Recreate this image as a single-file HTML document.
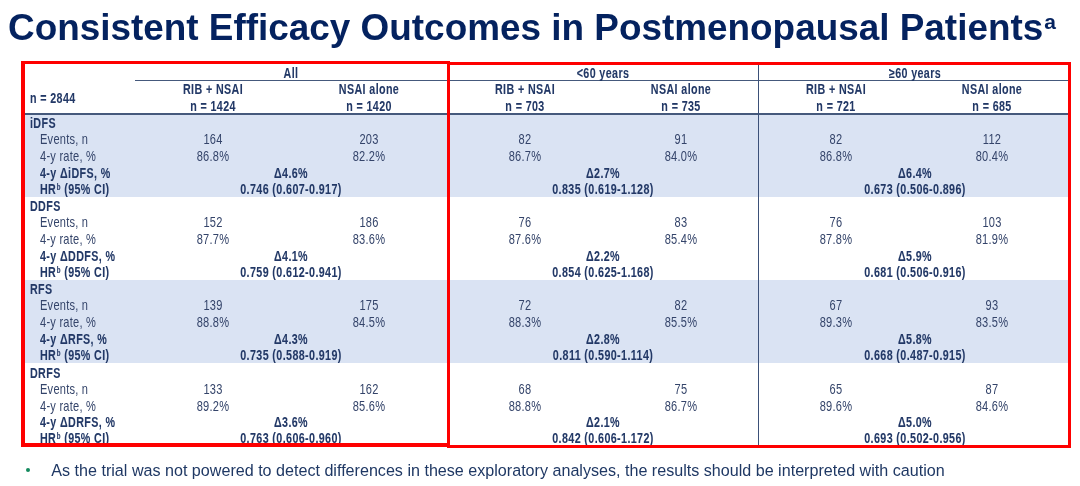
<!DOCTYPE html>
<html><head><meta charset="utf-8"><style>
html,body{margin:0;padding:0;}
body{width:1080px;height:486px;position:relative;overflow:hidden;background:#fff;font-family:"Liberation Sans", sans-serif;}
</style></head><body><div id="w" style="position:absolute;left:0;top:0;width:1080px;height:486px;will-change:transform">
<div style="position:absolute;left:25px;top:115px;width:1043px;height:82.4px;background:#dae3f3"></div>
<div style="position:absolute;left:25px;top:280.3px;width:1043px;height:83.1px;background:#dae3f3"></div>
<div style="position:absolute;left:135px;top:79.9px;width:933px;height:1.5px;background:#45597c"></div>
<div style="position:absolute;left:25px;top:113.3px;width:1043px;height:1.7px;background:#45597c"></div>
<div style="position:absolute;left:758.0px;top:65px;width:1.4px;height:381px;background:#3b5078"></div>
<div style="position:absolute;left:140.8px;width:300px;text-align:center;top:63.11px;font-size:14.1px;line-height:20px;font-weight:700;color:#223866;transform:scaleX(0.76);transform-origin:50% 0;white-space:nowrap;letter-spacing:0.5px;-webkit-text-stroke:0.08px">All</div>
<div style="position:absolute;left:62.80000000000001px;width:300px;text-align:center;top:79.31px;font-size:14.1px;line-height:20px;font-weight:700;color:#223866;transform:scaleX(0.76);transform-origin:50% 0;white-space:nowrap;letter-spacing:0.5px;-webkit-text-stroke:0.08px">RIB + NSAI</div>
<div style="position:absolute;left:218.8px;width:300px;text-align:center;top:79.31px;font-size:14.1px;line-height:20px;font-weight:700;color:#223866;transform:scaleX(0.76);transform-origin:50% 0;white-space:nowrap;letter-spacing:0.5px;-webkit-text-stroke:0.08px">NSAI alone</div>
<div style="position:absolute;left:62.80000000000001px;width:300px;text-align:center;top:95.71px;font-size:14.1px;line-height:20px;font-weight:700;color:#223866;transform:scaleX(0.76);transform-origin:50% 0;white-space:nowrap;letter-spacing:0.5px;-webkit-text-stroke:0.08px">n = 1424</div>
<div style="position:absolute;left:218.8px;width:300px;text-align:center;top:95.71px;font-size:14.1px;line-height:20px;font-weight:700;color:#223866;transform:scaleX(0.76);transform-origin:50% 0;white-space:nowrap;letter-spacing:0.5px;-webkit-text-stroke:0.08px">n = 1420</div>
<div style="position:absolute;left:453px;width:300px;text-align:center;top:63.11px;font-size:14.1px;line-height:20px;font-weight:700;color:#223866;transform:scaleX(0.76);transform-origin:50% 0;white-space:nowrap;letter-spacing:0.5px;-webkit-text-stroke:0.08px">&lt;60 years</div>
<div style="position:absolute;left:375px;width:300px;text-align:center;top:79.31px;font-size:14.1px;line-height:20px;font-weight:700;color:#223866;transform:scaleX(0.76);transform-origin:50% 0;white-space:nowrap;letter-spacing:0.5px;-webkit-text-stroke:0.08px">RIB + NSAI</div>
<div style="position:absolute;left:531px;width:300px;text-align:center;top:79.31px;font-size:14.1px;line-height:20px;font-weight:700;color:#223866;transform:scaleX(0.76);transform-origin:50% 0;white-space:nowrap;letter-spacing:0.5px;-webkit-text-stroke:0.08px">NSAI alone</div>
<div style="position:absolute;left:375px;width:300px;text-align:center;top:95.71px;font-size:14.1px;line-height:20px;font-weight:700;color:#223866;transform:scaleX(0.76);transform-origin:50% 0;white-space:nowrap;letter-spacing:0.5px;-webkit-text-stroke:0.08px">n = 703</div>
<div style="position:absolute;left:531px;width:300px;text-align:center;top:95.71px;font-size:14.1px;line-height:20px;font-weight:700;color:#223866;transform:scaleX(0.76);transform-origin:50% 0;white-space:nowrap;letter-spacing:0.5px;-webkit-text-stroke:0.08px">n = 735</div>
<div style="position:absolute;left:764.7px;width:300px;text-align:center;top:63.11px;font-size:14.1px;line-height:20px;font-weight:700;color:#223866;transform:scaleX(0.76);transform-origin:50% 0;white-space:nowrap;letter-spacing:0.5px;-webkit-text-stroke:0.08px">&ge;60 years</div>
<div style="position:absolute;left:686px;width:300px;text-align:center;top:79.31px;font-size:14.1px;line-height:20px;font-weight:700;color:#223866;transform:scaleX(0.76);transform-origin:50% 0;white-space:nowrap;letter-spacing:0.5px;-webkit-text-stroke:0.08px">RIB + NSAI</div>
<div style="position:absolute;left:841.9px;width:300px;text-align:center;top:79.31px;font-size:14.1px;line-height:20px;font-weight:700;color:#223866;transform:scaleX(0.76);transform-origin:50% 0;white-space:nowrap;letter-spacing:0.5px;-webkit-text-stroke:0.08px">NSAI alone</div>
<div style="position:absolute;left:686px;width:300px;text-align:center;top:95.71px;font-size:14.1px;line-height:20px;font-weight:700;color:#223866;transform:scaleX(0.76);transform-origin:50% 0;white-space:nowrap;letter-spacing:0.5px;-webkit-text-stroke:0.08px">n = 721</div>
<div style="position:absolute;left:841.9px;width:300px;text-align:center;top:95.71px;font-size:14.1px;line-height:20px;font-weight:700;color:#223866;transform:scaleX(0.76);transform-origin:50% 0;white-space:nowrap;letter-spacing:0.5px;-webkit-text-stroke:0.08px">n = 685</div>
<div style="position:absolute;left:30px;top:87.61px;font-size:14.1px;line-height:20px;font-weight:700;color:#223866;transform:scaleX(0.76);transform-origin:0 0;white-space:nowrap;letter-spacing:0.5px;-webkit-text-stroke:0.08px">n = 2844</div>
<div style="position:absolute;left:30px;top:112.81px;font-size:14.1px;line-height:20px;font-weight:700;color:#223866;transform:scaleX(0.76);transform-origin:0 0;white-space:nowrap;letter-spacing:0.5px;-webkit-text-stroke:0.08px">iDFS</div>
<div style="position:absolute;left:40px;top:128.91px;font-size:14.1px;line-height:20px;font-weight:400;color:#34446a;transform:scaleX(0.785);transform-origin:0 0;white-space:nowrap;letter-spacing:0.3px;-webkit-text-stroke:0.0px">Events, n</div>
<div style="position:absolute;left:40px;top:145.81px;font-size:14.1px;line-height:20px;font-weight:400;color:#34446a;transform:scaleX(0.785);transform-origin:0 0;white-space:nowrap;letter-spacing:0.3px;-webkit-text-stroke:0.0px">4-y rate, %</div>
<div style="position:absolute;left:40px;top:162.51px;font-size:14.1px;line-height:20px;font-weight:700;color:#223866;transform:scaleX(0.76);transform-origin:0 0;white-space:nowrap;letter-spacing:0.5px;-webkit-text-stroke:0.08px">4-y ΔiDFS, %</div>
<div style="position:absolute;left:40px;top:178.61px;font-size:14.1px;line-height:20px;font-weight:700;color:#223866;transform:scaleX(0.76);transform-origin:0 0;white-space:nowrap;letter-spacing:0.5px;-webkit-text-stroke:0.08px">HR<span style="font-size:8.2px;position:relative;top:-4px;margin-left:0.6px">b</span> (95% CI)</div>
<div style="position:absolute;left:62.80000000000001px;width:300px;text-align:center;top:128.91px;font-size:14.1px;line-height:20px;font-weight:400;color:#34446a;transform:scaleX(0.785);transform-origin:50% 0;white-space:nowrap;letter-spacing:0.3px;-webkit-text-stroke:0.0px">164</div>
<div style="position:absolute;left:218.8px;width:300px;text-align:center;top:128.91px;font-size:14.1px;line-height:20px;font-weight:400;color:#34446a;transform:scaleX(0.785);transform-origin:50% 0;white-space:nowrap;letter-spacing:0.3px;-webkit-text-stroke:0.0px">203</div>
<div style="position:absolute;left:62.80000000000001px;width:300px;text-align:center;top:145.81px;font-size:14.1px;line-height:20px;font-weight:400;color:#34446a;transform:scaleX(0.785);transform-origin:50% 0;white-space:nowrap;letter-spacing:0.3px;-webkit-text-stroke:0.0px">86.8%</div>
<div style="position:absolute;left:218.8px;width:300px;text-align:center;top:145.81px;font-size:14.1px;line-height:20px;font-weight:400;color:#34446a;transform:scaleX(0.785);transform-origin:50% 0;white-space:nowrap;letter-spacing:0.3px;-webkit-text-stroke:0.0px">82.2%</div>
<div style="position:absolute;left:140.8px;width:300px;text-align:center;top:162.51px;font-size:14.1px;line-height:20px;font-weight:700;color:#223866;transform:scaleX(0.76);transform-origin:50% 0;white-space:nowrap;letter-spacing:0.5px;-webkit-text-stroke:0.08px">Δ4.6%</div>
<div style="position:absolute;left:140.8px;width:300px;text-align:center;top:178.61px;font-size:14.1px;line-height:20px;font-weight:700;color:#223866;transform:scaleX(0.762);transform-origin:50% 0;white-space:nowrap;letter-spacing:0.5px;-webkit-text-stroke:0.08px">0.746 (0.607-0.917)</div>
<div style="position:absolute;left:375px;width:300px;text-align:center;top:128.91px;font-size:14.1px;line-height:20px;font-weight:400;color:#34446a;transform:scaleX(0.785);transform-origin:50% 0;white-space:nowrap;letter-spacing:0.3px;-webkit-text-stroke:0.0px">82</div>
<div style="position:absolute;left:531px;width:300px;text-align:center;top:128.91px;font-size:14.1px;line-height:20px;font-weight:400;color:#34446a;transform:scaleX(0.785);transform-origin:50% 0;white-space:nowrap;letter-spacing:0.3px;-webkit-text-stroke:0.0px">91</div>
<div style="position:absolute;left:375px;width:300px;text-align:center;top:145.81px;font-size:14.1px;line-height:20px;font-weight:400;color:#34446a;transform:scaleX(0.785);transform-origin:50% 0;white-space:nowrap;letter-spacing:0.3px;-webkit-text-stroke:0.0px">86.7%</div>
<div style="position:absolute;left:531px;width:300px;text-align:center;top:145.81px;font-size:14.1px;line-height:20px;font-weight:400;color:#34446a;transform:scaleX(0.785);transform-origin:50% 0;white-space:nowrap;letter-spacing:0.3px;-webkit-text-stroke:0.0px">84.0%</div>
<div style="position:absolute;left:453px;width:300px;text-align:center;top:162.51px;font-size:14.1px;line-height:20px;font-weight:700;color:#223866;transform:scaleX(0.76);transform-origin:50% 0;white-space:nowrap;letter-spacing:0.5px;-webkit-text-stroke:0.08px">Δ2.7%</div>
<div style="position:absolute;left:453px;width:300px;text-align:center;top:178.61px;font-size:14.1px;line-height:20px;font-weight:700;color:#223866;transform:scaleX(0.762);transform-origin:50% 0;white-space:nowrap;letter-spacing:0.5px;-webkit-text-stroke:0.08px">0.835 (0.619-1.128)</div>
<div style="position:absolute;left:686px;width:300px;text-align:center;top:128.91px;font-size:14.1px;line-height:20px;font-weight:400;color:#34446a;transform:scaleX(0.785);transform-origin:50% 0;white-space:nowrap;letter-spacing:0.3px;-webkit-text-stroke:0.0px">82</div>
<div style="position:absolute;left:841.9px;width:300px;text-align:center;top:128.91px;font-size:14.1px;line-height:20px;font-weight:400;color:#34446a;transform:scaleX(0.785);transform-origin:50% 0;white-space:nowrap;letter-spacing:0.3px;-webkit-text-stroke:0.0px">112</div>
<div style="position:absolute;left:686px;width:300px;text-align:center;top:145.81px;font-size:14.1px;line-height:20px;font-weight:400;color:#34446a;transform:scaleX(0.785);transform-origin:50% 0;white-space:nowrap;letter-spacing:0.3px;-webkit-text-stroke:0.0px">86.8%</div>
<div style="position:absolute;left:841.9px;width:300px;text-align:center;top:145.81px;font-size:14.1px;line-height:20px;font-weight:400;color:#34446a;transform:scaleX(0.785);transform-origin:50% 0;white-space:nowrap;letter-spacing:0.3px;-webkit-text-stroke:0.0px">80.4%</div>
<div style="position:absolute;left:764.7px;width:300px;text-align:center;top:162.51px;font-size:14.1px;line-height:20px;font-weight:700;color:#223866;transform:scaleX(0.76);transform-origin:50% 0;white-space:nowrap;letter-spacing:0.5px;-webkit-text-stroke:0.08px">Δ6.4%</div>
<div style="position:absolute;left:764.7px;width:300px;text-align:center;top:178.61px;font-size:14.1px;line-height:20px;font-weight:700;color:#223866;transform:scaleX(0.762);transform-origin:50% 0;white-space:nowrap;letter-spacing:0.5px;-webkit-text-stroke:0.08px">0.673 (0.506-0.896)</div>
<div style="position:absolute;left:30px;top:195.91px;font-size:14.1px;line-height:20px;font-weight:700;color:#223866;transform:scaleX(0.76);transform-origin:0 0;white-space:nowrap;letter-spacing:0.5px;-webkit-text-stroke:0.08px">DDFS</div>
<div style="position:absolute;left:40px;top:212.01px;font-size:14.1px;line-height:20px;font-weight:400;color:#34446a;transform:scaleX(0.785);transform-origin:0 0;white-space:nowrap;letter-spacing:0.3px;-webkit-text-stroke:0.0px">Events, n</div>
<div style="position:absolute;left:40px;top:228.91px;font-size:14.1px;line-height:20px;font-weight:400;color:#34446a;transform:scaleX(0.785);transform-origin:0 0;white-space:nowrap;letter-spacing:0.3px;-webkit-text-stroke:0.0px">4-y rate, %</div>
<div style="position:absolute;left:40px;top:245.61px;font-size:14.1px;line-height:20px;font-weight:700;color:#223866;transform:scaleX(0.76);transform-origin:0 0;white-space:nowrap;letter-spacing:0.5px;-webkit-text-stroke:0.08px">4-y ΔDDFS, %</div>
<div style="position:absolute;left:40px;top:261.71px;font-size:14.1px;line-height:20px;font-weight:700;color:#223866;transform:scaleX(0.76);transform-origin:0 0;white-space:nowrap;letter-spacing:0.5px;-webkit-text-stroke:0.08px">HR<span style="font-size:8.2px;position:relative;top:-4px;margin-left:0.6px">b</span> (95% CI)</div>
<div style="position:absolute;left:62.80000000000001px;width:300px;text-align:center;top:212.01px;font-size:14.1px;line-height:20px;font-weight:400;color:#34446a;transform:scaleX(0.785);transform-origin:50% 0;white-space:nowrap;letter-spacing:0.3px;-webkit-text-stroke:0.0px">152</div>
<div style="position:absolute;left:218.8px;width:300px;text-align:center;top:212.01px;font-size:14.1px;line-height:20px;font-weight:400;color:#34446a;transform:scaleX(0.785);transform-origin:50% 0;white-space:nowrap;letter-spacing:0.3px;-webkit-text-stroke:0.0px">186</div>
<div style="position:absolute;left:62.80000000000001px;width:300px;text-align:center;top:228.91px;font-size:14.1px;line-height:20px;font-weight:400;color:#34446a;transform:scaleX(0.785);transform-origin:50% 0;white-space:nowrap;letter-spacing:0.3px;-webkit-text-stroke:0.0px">87.7%</div>
<div style="position:absolute;left:218.8px;width:300px;text-align:center;top:228.91px;font-size:14.1px;line-height:20px;font-weight:400;color:#34446a;transform:scaleX(0.785);transform-origin:50% 0;white-space:nowrap;letter-spacing:0.3px;-webkit-text-stroke:0.0px">83.6%</div>
<div style="position:absolute;left:140.8px;width:300px;text-align:center;top:245.61px;font-size:14.1px;line-height:20px;font-weight:700;color:#223866;transform:scaleX(0.76);transform-origin:50% 0;white-space:nowrap;letter-spacing:0.5px;-webkit-text-stroke:0.08px">Δ4.1%</div>
<div style="position:absolute;left:140.8px;width:300px;text-align:center;top:261.71px;font-size:14.1px;line-height:20px;font-weight:700;color:#223866;transform:scaleX(0.762);transform-origin:50% 0;white-space:nowrap;letter-spacing:0.5px;-webkit-text-stroke:0.08px">0.759 (0.612-0.941)</div>
<div style="position:absolute;left:375px;width:300px;text-align:center;top:212.01px;font-size:14.1px;line-height:20px;font-weight:400;color:#34446a;transform:scaleX(0.785);transform-origin:50% 0;white-space:nowrap;letter-spacing:0.3px;-webkit-text-stroke:0.0px">76</div>
<div style="position:absolute;left:531px;width:300px;text-align:center;top:212.01px;font-size:14.1px;line-height:20px;font-weight:400;color:#34446a;transform:scaleX(0.785);transform-origin:50% 0;white-space:nowrap;letter-spacing:0.3px;-webkit-text-stroke:0.0px">83</div>
<div style="position:absolute;left:375px;width:300px;text-align:center;top:228.91px;font-size:14.1px;line-height:20px;font-weight:400;color:#34446a;transform:scaleX(0.785);transform-origin:50% 0;white-space:nowrap;letter-spacing:0.3px;-webkit-text-stroke:0.0px">87.6%</div>
<div style="position:absolute;left:531px;width:300px;text-align:center;top:228.91px;font-size:14.1px;line-height:20px;font-weight:400;color:#34446a;transform:scaleX(0.785);transform-origin:50% 0;white-space:nowrap;letter-spacing:0.3px;-webkit-text-stroke:0.0px">85.4%</div>
<div style="position:absolute;left:453px;width:300px;text-align:center;top:245.61px;font-size:14.1px;line-height:20px;font-weight:700;color:#223866;transform:scaleX(0.76);transform-origin:50% 0;white-space:nowrap;letter-spacing:0.5px;-webkit-text-stroke:0.08px">Δ2.2%</div>
<div style="position:absolute;left:453px;width:300px;text-align:center;top:261.71px;font-size:14.1px;line-height:20px;font-weight:700;color:#223866;transform:scaleX(0.762);transform-origin:50% 0;white-space:nowrap;letter-spacing:0.5px;-webkit-text-stroke:0.08px">0.854 (0.625-1.168)</div>
<div style="position:absolute;left:686px;width:300px;text-align:center;top:212.01px;font-size:14.1px;line-height:20px;font-weight:400;color:#34446a;transform:scaleX(0.785);transform-origin:50% 0;white-space:nowrap;letter-spacing:0.3px;-webkit-text-stroke:0.0px">76</div>
<div style="position:absolute;left:841.9px;width:300px;text-align:center;top:212.01px;font-size:14.1px;line-height:20px;font-weight:400;color:#34446a;transform:scaleX(0.785);transform-origin:50% 0;white-space:nowrap;letter-spacing:0.3px;-webkit-text-stroke:0.0px">103</div>
<div style="position:absolute;left:686px;width:300px;text-align:center;top:228.91px;font-size:14.1px;line-height:20px;font-weight:400;color:#34446a;transform:scaleX(0.785);transform-origin:50% 0;white-space:nowrap;letter-spacing:0.3px;-webkit-text-stroke:0.0px">87.8%</div>
<div style="position:absolute;left:841.9px;width:300px;text-align:center;top:228.91px;font-size:14.1px;line-height:20px;font-weight:400;color:#34446a;transform:scaleX(0.785);transform-origin:50% 0;white-space:nowrap;letter-spacing:0.3px;-webkit-text-stroke:0.0px">81.9%</div>
<div style="position:absolute;left:764.7px;width:300px;text-align:center;top:245.61px;font-size:14.1px;line-height:20px;font-weight:700;color:#223866;transform:scaleX(0.76);transform-origin:50% 0;white-space:nowrap;letter-spacing:0.5px;-webkit-text-stroke:0.08px">Δ5.9%</div>
<div style="position:absolute;left:764.7px;width:300px;text-align:center;top:261.71px;font-size:14.1px;line-height:20px;font-weight:700;color:#223866;transform:scaleX(0.762);transform-origin:50% 0;white-space:nowrap;letter-spacing:0.5px;-webkit-text-stroke:0.08px">0.681 (0.506-0.916)</div>
<div style="position:absolute;left:30px;top:279.01px;font-size:14.1px;line-height:20px;font-weight:700;color:#223866;transform:scaleX(0.76);transform-origin:0 0;white-space:nowrap;letter-spacing:0.5px;-webkit-text-stroke:0.08px">RFS</div>
<div style="position:absolute;left:40px;top:295.11px;font-size:14.1px;line-height:20px;font-weight:400;color:#34446a;transform:scaleX(0.785);transform-origin:0 0;white-space:nowrap;letter-spacing:0.3px;-webkit-text-stroke:0.0px">Events, n</div>
<div style="position:absolute;left:40px;top:312.01px;font-size:14.1px;line-height:20px;font-weight:400;color:#34446a;transform:scaleX(0.785);transform-origin:0 0;white-space:nowrap;letter-spacing:0.3px;-webkit-text-stroke:0.0px">4-y rate, %</div>
<div style="position:absolute;left:40px;top:328.71px;font-size:14.1px;line-height:20px;font-weight:700;color:#223866;transform:scaleX(0.76);transform-origin:0 0;white-space:nowrap;letter-spacing:0.5px;-webkit-text-stroke:0.08px">4-y ΔRFS, %</div>
<div style="position:absolute;left:40px;top:344.81px;font-size:14.1px;line-height:20px;font-weight:700;color:#223866;transform:scaleX(0.76);transform-origin:0 0;white-space:nowrap;letter-spacing:0.5px;-webkit-text-stroke:0.08px">HR<span style="font-size:8.2px;position:relative;top:-4px;margin-left:0.6px">b</span> (95% CI)</div>
<div style="position:absolute;left:62.80000000000001px;width:300px;text-align:center;top:295.11px;font-size:14.1px;line-height:20px;font-weight:400;color:#34446a;transform:scaleX(0.785);transform-origin:50% 0;white-space:nowrap;letter-spacing:0.3px;-webkit-text-stroke:0.0px">139</div>
<div style="position:absolute;left:218.8px;width:300px;text-align:center;top:295.11px;font-size:14.1px;line-height:20px;font-weight:400;color:#34446a;transform:scaleX(0.785);transform-origin:50% 0;white-space:nowrap;letter-spacing:0.3px;-webkit-text-stroke:0.0px">175</div>
<div style="position:absolute;left:62.80000000000001px;width:300px;text-align:center;top:312.01px;font-size:14.1px;line-height:20px;font-weight:400;color:#34446a;transform:scaleX(0.785);transform-origin:50% 0;white-space:nowrap;letter-spacing:0.3px;-webkit-text-stroke:0.0px">88.8%</div>
<div style="position:absolute;left:218.8px;width:300px;text-align:center;top:312.01px;font-size:14.1px;line-height:20px;font-weight:400;color:#34446a;transform:scaleX(0.785);transform-origin:50% 0;white-space:nowrap;letter-spacing:0.3px;-webkit-text-stroke:0.0px">84.5%</div>
<div style="position:absolute;left:140.8px;width:300px;text-align:center;top:328.71px;font-size:14.1px;line-height:20px;font-weight:700;color:#223866;transform:scaleX(0.76);transform-origin:50% 0;white-space:nowrap;letter-spacing:0.5px;-webkit-text-stroke:0.08px">Δ4.3%</div>
<div style="position:absolute;left:140.8px;width:300px;text-align:center;top:344.81px;font-size:14.1px;line-height:20px;font-weight:700;color:#223866;transform:scaleX(0.762);transform-origin:50% 0;white-space:nowrap;letter-spacing:0.5px;-webkit-text-stroke:0.08px">0.735 (0.588-0.919)</div>
<div style="position:absolute;left:375px;width:300px;text-align:center;top:295.11px;font-size:14.1px;line-height:20px;font-weight:400;color:#34446a;transform:scaleX(0.785);transform-origin:50% 0;white-space:nowrap;letter-spacing:0.3px;-webkit-text-stroke:0.0px">72</div>
<div style="position:absolute;left:531px;width:300px;text-align:center;top:295.11px;font-size:14.1px;line-height:20px;font-weight:400;color:#34446a;transform:scaleX(0.785);transform-origin:50% 0;white-space:nowrap;letter-spacing:0.3px;-webkit-text-stroke:0.0px">82</div>
<div style="position:absolute;left:375px;width:300px;text-align:center;top:312.01px;font-size:14.1px;line-height:20px;font-weight:400;color:#34446a;transform:scaleX(0.785);transform-origin:50% 0;white-space:nowrap;letter-spacing:0.3px;-webkit-text-stroke:0.0px">88.3%</div>
<div style="position:absolute;left:531px;width:300px;text-align:center;top:312.01px;font-size:14.1px;line-height:20px;font-weight:400;color:#34446a;transform:scaleX(0.785);transform-origin:50% 0;white-space:nowrap;letter-spacing:0.3px;-webkit-text-stroke:0.0px">85.5%</div>
<div style="position:absolute;left:453px;width:300px;text-align:center;top:328.71px;font-size:14.1px;line-height:20px;font-weight:700;color:#223866;transform:scaleX(0.76);transform-origin:50% 0;white-space:nowrap;letter-spacing:0.5px;-webkit-text-stroke:0.08px">Δ2.8%</div>
<div style="position:absolute;left:453px;width:300px;text-align:center;top:344.81px;font-size:14.1px;line-height:20px;font-weight:700;color:#223866;transform:scaleX(0.762);transform-origin:50% 0;white-space:nowrap;letter-spacing:0.5px;-webkit-text-stroke:0.08px">0.811 (0.590-1.114)</div>
<div style="position:absolute;left:686px;width:300px;text-align:center;top:295.11px;font-size:14.1px;line-height:20px;font-weight:400;color:#34446a;transform:scaleX(0.785);transform-origin:50% 0;white-space:nowrap;letter-spacing:0.3px;-webkit-text-stroke:0.0px">67</div>
<div style="position:absolute;left:841.9px;width:300px;text-align:center;top:295.11px;font-size:14.1px;line-height:20px;font-weight:400;color:#34446a;transform:scaleX(0.785);transform-origin:50% 0;white-space:nowrap;letter-spacing:0.3px;-webkit-text-stroke:0.0px">93</div>
<div style="position:absolute;left:686px;width:300px;text-align:center;top:312.01px;font-size:14.1px;line-height:20px;font-weight:400;color:#34446a;transform:scaleX(0.785);transform-origin:50% 0;white-space:nowrap;letter-spacing:0.3px;-webkit-text-stroke:0.0px">89.3%</div>
<div style="position:absolute;left:841.9px;width:300px;text-align:center;top:312.01px;font-size:14.1px;line-height:20px;font-weight:400;color:#34446a;transform:scaleX(0.785);transform-origin:50% 0;white-space:nowrap;letter-spacing:0.3px;-webkit-text-stroke:0.0px">83.5%</div>
<div style="position:absolute;left:764.7px;width:300px;text-align:center;top:328.71px;font-size:14.1px;line-height:20px;font-weight:700;color:#223866;transform:scaleX(0.76);transform-origin:50% 0;white-space:nowrap;letter-spacing:0.5px;-webkit-text-stroke:0.08px">Δ5.8%</div>
<div style="position:absolute;left:764.7px;width:300px;text-align:center;top:344.81px;font-size:14.1px;line-height:20px;font-weight:700;color:#223866;transform:scaleX(0.762);transform-origin:50% 0;white-space:nowrap;letter-spacing:0.5px;-webkit-text-stroke:0.08px">0.668 (0.487-0.915)</div>
<div style="position:absolute;left:30px;top:362.61px;font-size:14.1px;line-height:20px;font-weight:700;color:#223866;transform:scaleX(0.76);transform-origin:0 0;white-space:nowrap;letter-spacing:0.5px;-webkit-text-stroke:0.08px">DRFS</div>
<div style="position:absolute;left:40px;top:378.71px;font-size:14.1px;line-height:20px;font-weight:400;color:#34446a;transform:scaleX(0.785);transform-origin:0 0;white-space:nowrap;letter-spacing:0.3px;-webkit-text-stroke:0.0px">Events, n</div>
<div style="position:absolute;left:40px;top:395.61px;font-size:14.1px;line-height:20px;font-weight:400;color:#34446a;transform:scaleX(0.785);transform-origin:0 0;white-space:nowrap;letter-spacing:0.3px;-webkit-text-stroke:0.0px">4-y rate, %</div>
<div style="position:absolute;left:40px;top:412.31px;font-size:14.1px;line-height:20px;font-weight:700;color:#223866;transform:scaleX(0.76);transform-origin:0 0;white-space:nowrap;letter-spacing:0.5px;-webkit-text-stroke:0.08px">4-y ΔDRFS, %</div>
<div style="position:absolute;left:40px;top:428.41px;font-size:14.1px;line-height:20px;font-weight:700;color:#223866;transform:scaleX(0.76);transform-origin:0 0;white-space:nowrap;letter-spacing:0.5px;-webkit-text-stroke:0.08px">HR<span style="font-size:8.2px;position:relative;top:-4px;margin-left:0.6px">b</span> (95% CI)</div>
<div style="position:absolute;left:62.80000000000001px;width:300px;text-align:center;top:378.71px;font-size:14.1px;line-height:20px;font-weight:400;color:#34446a;transform:scaleX(0.785);transform-origin:50% 0;white-space:nowrap;letter-spacing:0.3px;-webkit-text-stroke:0.0px">133</div>
<div style="position:absolute;left:218.8px;width:300px;text-align:center;top:378.71px;font-size:14.1px;line-height:20px;font-weight:400;color:#34446a;transform:scaleX(0.785);transform-origin:50% 0;white-space:nowrap;letter-spacing:0.3px;-webkit-text-stroke:0.0px">162</div>
<div style="position:absolute;left:62.80000000000001px;width:300px;text-align:center;top:395.61px;font-size:14.1px;line-height:20px;font-weight:400;color:#34446a;transform:scaleX(0.785);transform-origin:50% 0;white-space:nowrap;letter-spacing:0.3px;-webkit-text-stroke:0.0px">89.2%</div>
<div style="position:absolute;left:218.8px;width:300px;text-align:center;top:395.61px;font-size:14.1px;line-height:20px;font-weight:400;color:#34446a;transform:scaleX(0.785);transform-origin:50% 0;white-space:nowrap;letter-spacing:0.3px;-webkit-text-stroke:0.0px">85.6%</div>
<div style="position:absolute;left:140.8px;width:300px;text-align:center;top:412.31px;font-size:14.1px;line-height:20px;font-weight:700;color:#223866;transform:scaleX(0.76);transform-origin:50% 0;white-space:nowrap;letter-spacing:0.5px;-webkit-text-stroke:0.08px">Δ3.6%</div>
<div style="position:absolute;left:140.8px;width:300px;text-align:center;top:428.41px;font-size:14.1px;line-height:20px;font-weight:700;color:#223866;transform:scaleX(0.762);transform-origin:50% 0;white-space:nowrap;letter-spacing:0.5px;-webkit-text-stroke:0.08px">0.763 (0.606-0.960)</div>
<div style="position:absolute;left:375px;width:300px;text-align:center;top:378.71px;font-size:14.1px;line-height:20px;font-weight:400;color:#34446a;transform:scaleX(0.785);transform-origin:50% 0;white-space:nowrap;letter-spacing:0.3px;-webkit-text-stroke:0.0px">68</div>
<div style="position:absolute;left:531px;width:300px;text-align:center;top:378.71px;font-size:14.1px;line-height:20px;font-weight:400;color:#34446a;transform:scaleX(0.785);transform-origin:50% 0;white-space:nowrap;letter-spacing:0.3px;-webkit-text-stroke:0.0px">75</div>
<div style="position:absolute;left:375px;width:300px;text-align:center;top:395.61px;font-size:14.1px;line-height:20px;font-weight:400;color:#34446a;transform:scaleX(0.785);transform-origin:50% 0;white-space:nowrap;letter-spacing:0.3px;-webkit-text-stroke:0.0px">88.8%</div>
<div style="position:absolute;left:531px;width:300px;text-align:center;top:395.61px;font-size:14.1px;line-height:20px;font-weight:400;color:#34446a;transform:scaleX(0.785);transform-origin:50% 0;white-space:nowrap;letter-spacing:0.3px;-webkit-text-stroke:0.0px">86.7%</div>
<div style="position:absolute;left:453px;width:300px;text-align:center;top:412.31px;font-size:14.1px;line-height:20px;font-weight:700;color:#223866;transform:scaleX(0.76);transform-origin:50% 0;white-space:nowrap;letter-spacing:0.5px;-webkit-text-stroke:0.08px">Δ2.1%</div>
<div style="position:absolute;left:453px;width:300px;text-align:center;top:428.41px;font-size:14.1px;line-height:20px;font-weight:700;color:#223866;transform:scaleX(0.762);transform-origin:50% 0;white-space:nowrap;letter-spacing:0.5px;-webkit-text-stroke:0.08px">0.842 (0.606-1.172)</div>
<div style="position:absolute;left:686px;width:300px;text-align:center;top:378.71px;font-size:14.1px;line-height:20px;font-weight:400;color:#34446a;transform:scaleX(0.785);transform-origin:50% 0;white-space:nowrap;letter-spacing:0.3px;-webkit-text-stroke:0.0px">65</div>
<div style="position:absolute;left:841.9px;width:300px;text-align:center;top:378.71px;font-size:14.1px;line-height:20px;font-weight:400;color:#34446a;transform:scaleX(0.785);transform-origin:50% 0;white-space:nowrap;letter-spacing:0.3px;-webkit-text-stroke:0.0px">87</div>
<div style="position:absolute;left:686px;width:300px;text-align:center;top:395.61px;font-size:14.1px;line-height:20px;font-weight:400;color:#34446a;transform:scaleX(0.785);transform-origin:50% 0;white-space:nowrap;letter-spacing:0.3px;-webkit-text-stroke:0.0px">89.6%</div>
<div style="position:absolute;left:841.9px;width:300px;text-align:center;top:395.61px;font-size:14.1px;line-height:20px;font-weight:400;color:#34446a;transform:scaleX(0.785);transform-origin:50% 0;white-space:nowrap;letter-spacing:0.3px;-webkit-text-stroke:0.0px">84.6%</div>
<div style="position:absolute;left:764.7px;width:300px;text-align:center;top:412.31px;font-size:14.1px;line-height:20px;font-weight:700;color:#223866;transform:scaleX(0.76);transform-origin:50% 0;white-space:nowrap;letter-spacing:0.5px;-webkit-text-stroke:0.08px">Δ5.0%</div>
<div style="position:absolute;left:764.7px;width:300px;text-align:center;top:428.41px;font-size:14.1px;line-height:20px;font-weight:700;color:#223866;transform:scaleX(0.762);transform-origin:50% 0;white-space:nowrap;letter-spacing:0.5px;-webkit-text-stroke:0.08px">0.693 (0.502-0.956)</div>
<div style="position:absolute;left:21.3px;top:61.1px;width:428.7px;height:3.3px;background:#fe0000"></div>
<div style="position:absolute;left:21.3px;top:61.1px;width:3.7px;height:385.5px;background:#fe0000"></div>
<div style="position:absolute;left:21.3px;top:443.3px;width:428.7px;height:3.3px;background:#fe0000"></div>
<div style="position:absolute;left:446.5px;top:61.1px;width:3.6px;height:387.3px;background:#fe0000"></div>
<div style="position:absolute;left:446.5px;top:61.6px;width:624.6px;height:3.5px;background:#fe0000"></div>
<div style="position:absolute;left:1067.6px;top:61.6px;width:3.5px;height:386.8px;background:#fe0000"></div>
<div style="position:absolute;left:446.5px;top:444.8px;width:624.6px;height:3.6px;background:#fe0000"></div>
<div style="position:absolute;left:8px;top:3.10px;font-size:36.9px;line-height:50px;font-weight:700;color:#04225f;white-space:nowrap">Consistent Efficacy Outcomes in Postmenopausal Patients<span style="font-size:21px;position:relative;top:-11.5px;margin-left:1px">a</span></div>
<div style="position:absolute;left:26px;top:468px;width:4px;height:4px;border-radius:50%;background:#138a5e"></div>
<div style="position:absolute;left:51.3px;top:458.01px;font-size:16.13px;line-height:24px;color:#1f3864;white-space:nowrap">As the trial was not powered to detect differences in these exploratory analyses, the results should be interpreted with caution</div>
</div></body></html>
